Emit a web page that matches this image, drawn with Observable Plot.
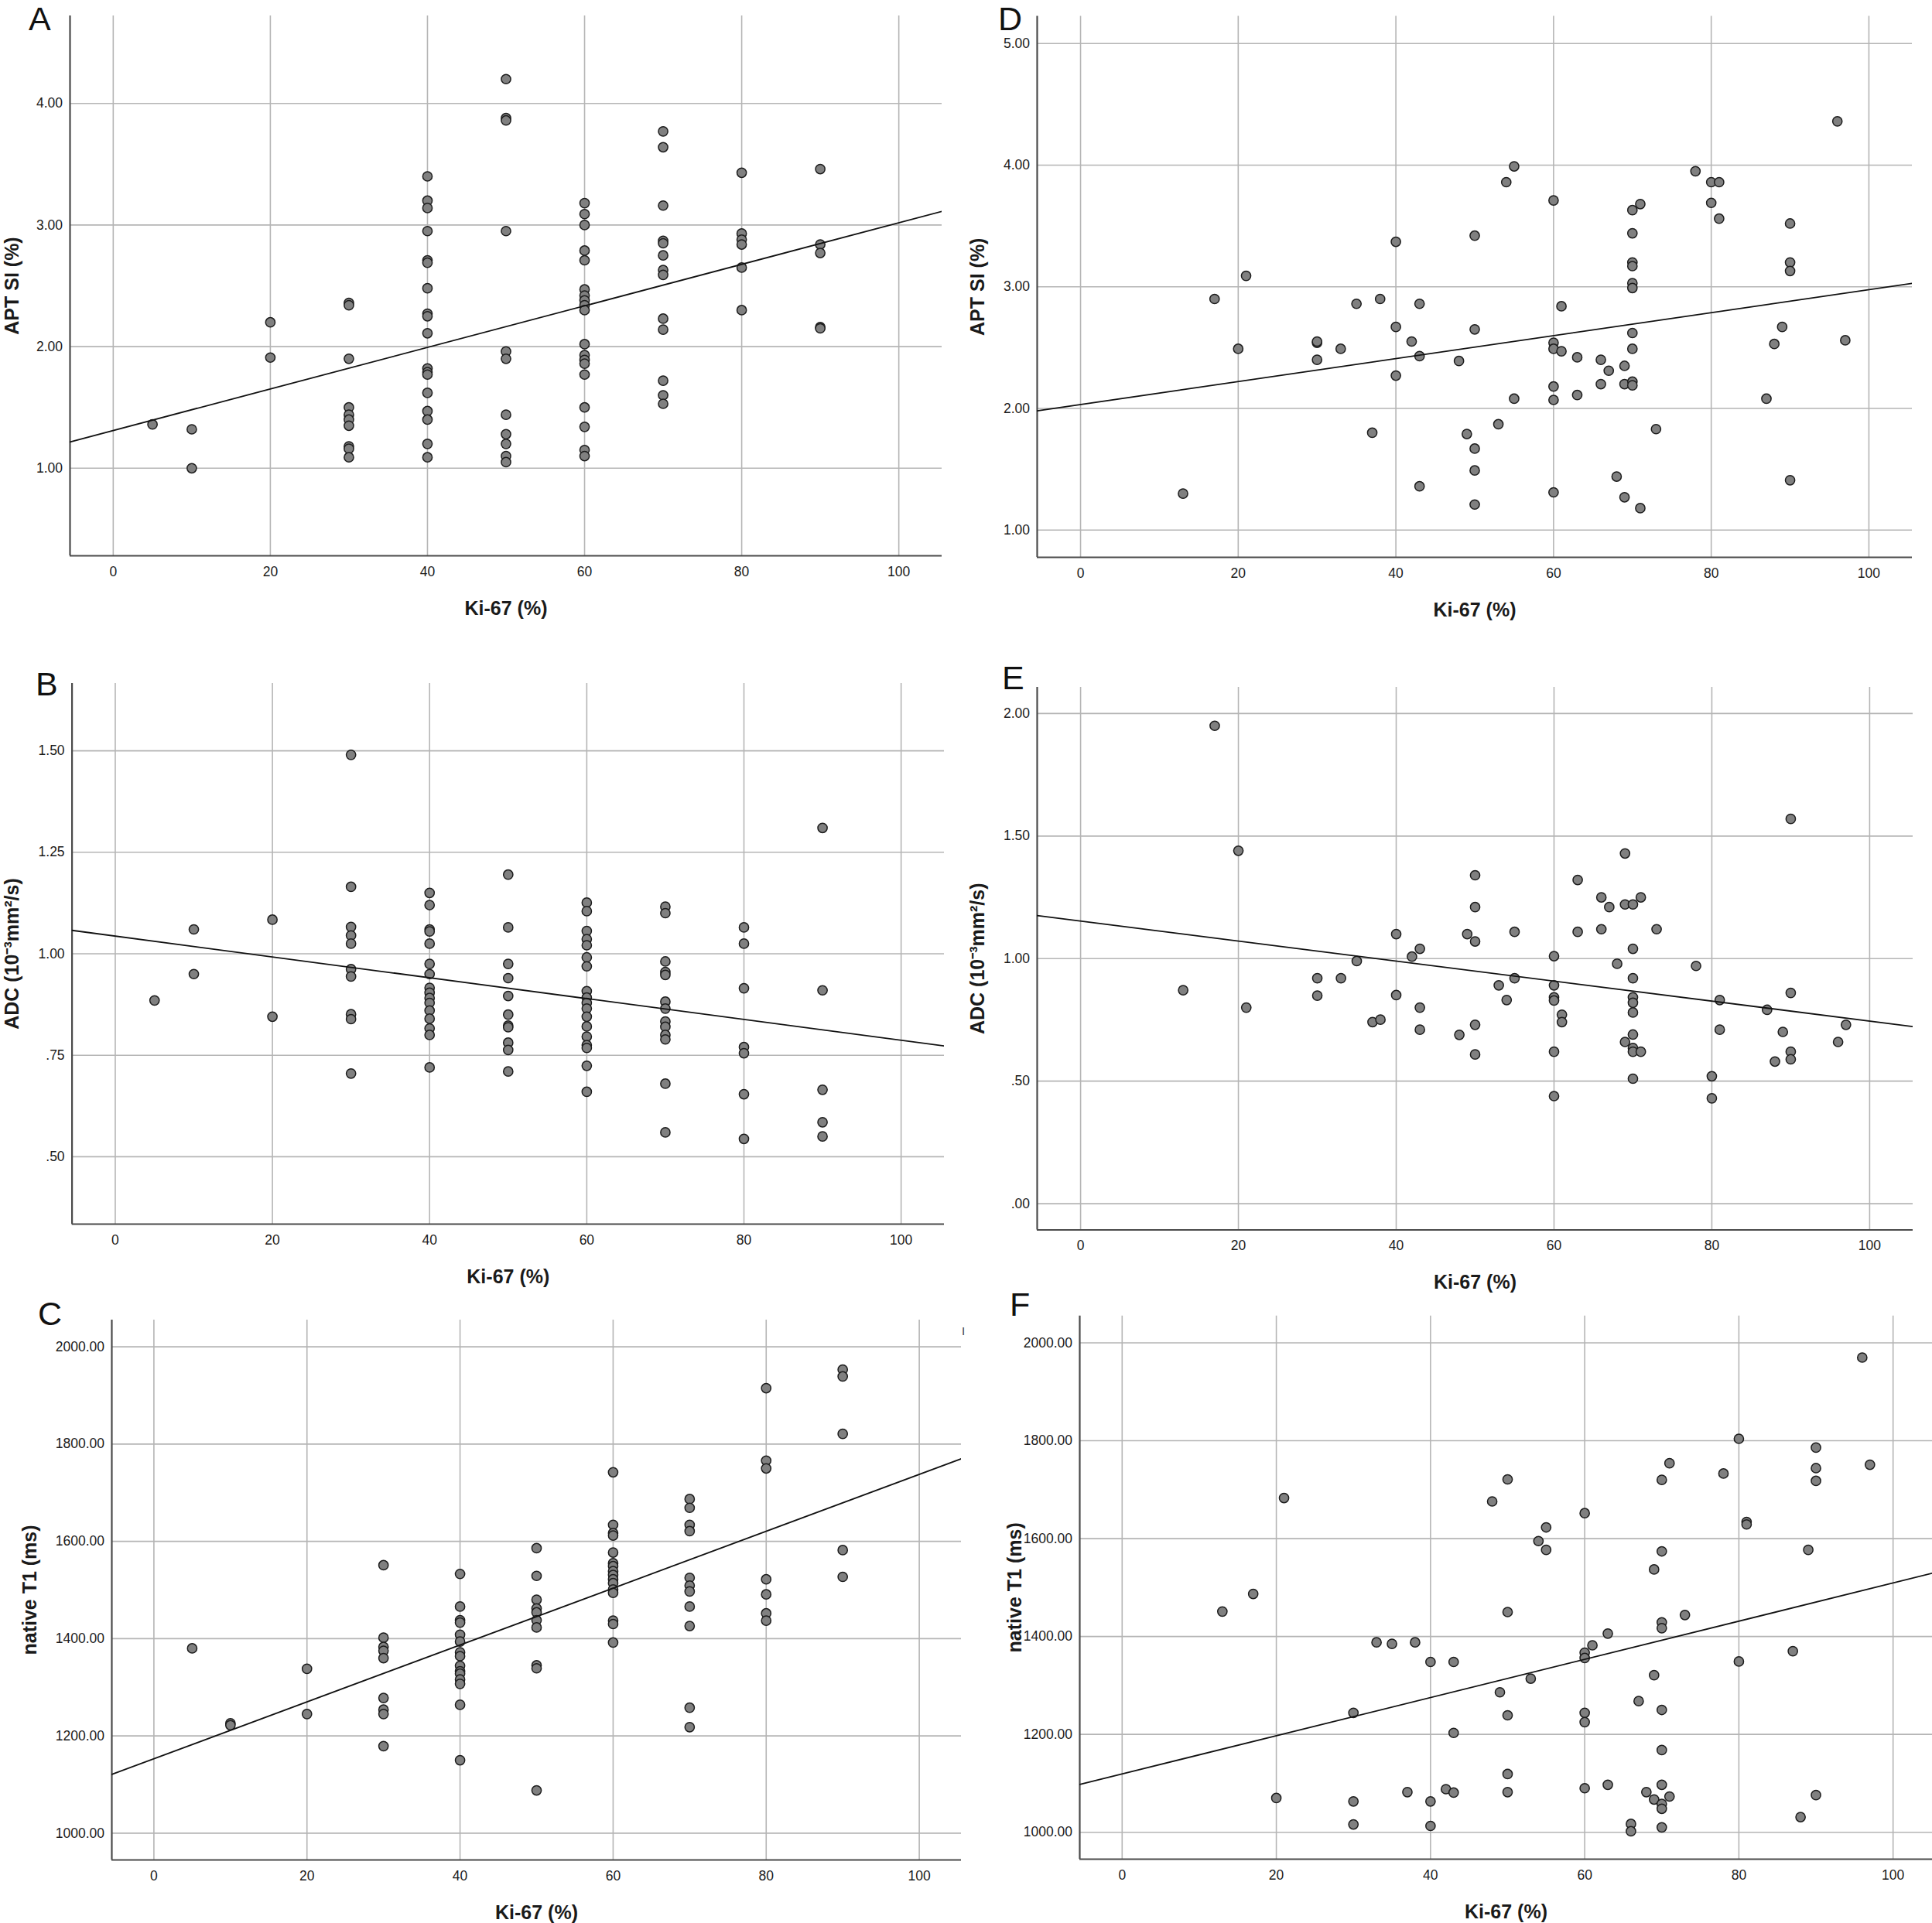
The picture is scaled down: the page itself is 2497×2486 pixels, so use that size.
<!DOCTYPE html>
<html>
<head>
<meta charset="utf-8">
<script src="https://cdn.jsdelivr.net/npm/d3@7"></script>
<script src="https://cdn.jsdelivr.net/npm/@observablehq/plot@0.6"></script>
<style>
html, body { margin: 0; padding: 0; background: #fff; overflow: hidden; }
#root { position: relative; width: 2497px; height: 2486px; background: #fff; overflow: hidden; }
.panel { position: absolute; }
.letter { position: absolute; font-family: "Liberation Sans", Arial, sans-serif; font-size: 43px; line-height: 1.15; color: #111; }
.mark { position: absolute; font-family: "Liberation Sans", Arial, sans-serif; font-size: 15px; line-height: 1.15; color: #444; }
</style>
</head>
<body>
<div id="root"></div>
<script>
// ---------- DATA ----------
const xTicks = [0, 20, 40, 60, 80, 100];

// A: APT SI vs Ki-67 (cohort 1)
const aKi = [5, 10, 10, 20, 20,
  30, 30, 30, 30, 30, 30, 30, 30, 30, 30,
  40, 40, 40, 40, 40, 40, 40, 40, 40, 40, 40, 40, 40, 40, 40, 40, 40, 40,
  50, 50, 50, 50, 50, 50, 50, 50, 50, 50, 50,
  60, 60, 60, 60, 60, 60, 60, 60, 60, 60, 60, 60, 60, 60, 60, 60, 60, 60, 60,
  70, 70, 70, 70, 70, 70, 70, 70, 70, 70, 70, 70, 70,
  80, 80, 80, 80, 80, 80,
  90, 90, 90, 90, 90];
const aApt = [1.36, 1.32, 1.00, 2.20, 1.91,
  2.36, 2.34, 1.90, 1.50, 1.44, 1.40, 1.35, 1.18, 1.16, 1.09,
  3.40, 3.20, 3.14, 2.95, 2.71, 2.69, 2.48, 2.27, 2.25, 2.11, 1.82, 1.79, 1.77, 1.62, 1.47, 1.40, 1.20, 1.09,
  4.20, 3.88, 3.86, 2.95, 1.96, 1.90, 1.44, 1.28, 1.20, 1.10, 1.05,
  3.18, 3.09, 3.00, 2.79, 2.71, 2.47, 2.42, 2.38, 2.34, 2.30, 2.02, 1.93, 1.89, 1.86, 1.77, 1.50, 1.34, 1.15, 1.10,
  3.77, 3.64, 3.16, 2.87, 2.85, 2.75, 2.63, 2.59, 2.23, 2.14, 1.72, 1.60, 1.53,
  3.43, 2.93, 2.88, 2.84, 2.65, 2.30,
  3.46, 2.84, 2.77, 2.16, 2.15];
const aTicks = [1, 2, 3, 4];

// B: ADC vs Ki-67 (cohort 1)
const bKi = [5, 10, 10, 20, 20,
  30, 30, 30, 30, 30, 30, 30, 30, 30, 30,
  40, 40, 40, 40, 40, 40, 40, 40, 40, 40, 40, 40, 40, 40, 40, 40,
  50, 50, 50, 50, 50, 50, 50, 50, 50, 50, 50,
  60, 60, 60, 60, 60, 60, 60, 60, 60, 60, 60, 60, 60, 60, 60, 60, 60, 60,
  70, 70, 70, 70, 70, 70, 70, 70, 70, 70, 70, 70, 70,
  80, 80, 80, 80, 80, 80, 80,
  90, 90, 90, 90, 90];
const bAdc = [0.885, 1.060, 0.950, 1.084, 0.845,
  1.490, 1.165, 1.066, 1.045, 1.025, 0.962, 0.944, 0.851, 0.839, 0.705,
  1.150, 1.120, 1.060, 1.055, 1.025, 0.975, 0.950, 0.916, 0.904, 0.891, 0.879, 0.860, 0.840, 0.816, 0.800, 0.720,
  1.195, 1.065, 0.975, 0.940, 0.896, 0.850, 0.823, 0.819, 0.781, 0.763, 0.710,
  1.126, 1.105, 1.056, 1.036, 1.021, 0.991, 0.969, 0.908, 0.892, 0.879, 0.865, 0.845, 0.821, 0.796, 0.775, 0.768, 0.724, 0.660,
  1.116, 1.100, 0.981, 0.955, 0.948, 0.882, 0.865, 0.833, 0.820, 0.800, 0.789, 0.680, 0.560,
  1.065, 1.025, 0.915, 0.770, 0.755, 0.654, 0.544,
  1.310, 0.910, 0.665, 0.585, 0.550];
const bTicks = [0.5, 0.75, 1.0, 1.25, 1.5];

// C: native T1 vs Ki-67 (cohort 1)
const cKi = [5, 10, 10, 20, 20,
  30, 30, 30, 30, 30, 30, 30, 30, 30,
  40, 40, 40, 40, 40, 40, 40, 40, 40, 40, 40, 40, 40, 40, 40,
  50, 50, 50, 50, 50, 50, 50, 50, 50, 50,
  60, 60, 60, 60, 60, 60, 60, 60, 60, 60, 60, 60, 60, 60, 60, 60,
  70, 70, 70, 70, 70, 70, 70, 70, 70, 70, 70,
  80, 80, 80, 80, 80, 80, 80,
  90, 90, 90, 90, 90];
const cT1 = [1380, 1226, 1222, 1338, 1245,
  1551, 1402, 1383, 1375, 1360, 1278, 1254, 1245, 1179,
  1533, 1466, 1438, 1433, 1408, 1394, 1372, 1364, 1344, 1333, 1328, 1316, 1307, 1264, 1150,
  1586, 1529, 1480, 1462, 1454, 1438, 1423, 1345, 1339, 1088,
  1742, 1634, 1617, 1612, 1577, 1555, 1549, 1539, 1531, 1522, 1514, 1501, 1494, 1437, 1430, 1392,
  1687, 1669, 1634, 1621, 1525, 1509, 1497, 1466, 1426, 1258, 1218,
  1915, 1766, 1750, 1522, 1491, 1452, 1437,
  1953, 1939, 1821, 1582, 1527];
const t1Ticks = [1000, 1200, 1400, 1600, 1800, 2000];

// D: APT SI vs Ki-67 (cohort 2)
const dKi = [13, 17, 20, 21, 30, 30, 30, 33, 35, 37, 38, 40, 40, 40, 42, 43, 43, 43, 48, 49,
  50, 50, 50, 50, 50, 53, 54, 55, 55, 60, 60, 60, 60, 60, 60, 61, 61, 63, 63, 66, 66, 67, 68,
  69, 69, 69, 70, 70, 70, 70, 70, 70, 70, 70, 70, 70, 71, 71, 73, 78, 80, 80, 81, 81, 87, 88, 89,
  90, 90, 90, 90, 96, 97];
const dApt = [1.30, 2.90, 2.49, 3.09, 2.54, 2.55, 2.40, 2.49, 2.86, 1.80, 2.90, 3.37, 2.67, 2.27, 2.55, 2.86, 2.43, 1.36, 2.39, 1.79,
  3.42, 2.65, 1.67, 1.49, 1.21, 1.87, 3.86, 3.99, 2.08, 3.71, 2.54, 2.49, 2.18, 2.07, 1.31, 2.84, 2.47, 2.42, 2.11, 2.40, 2.20, 2.31, 1.44,
  2.35, 2.20, 1.27, 3.63, 3.44, 3.20, 3.17, 3.03, 2.99, 2.62, 2.49, 2.22, 2.19, 3.68, 1.18, 1.83, 3.95, 3.86, 3.69, 3.86, 3.56, 2.08, 2.53, 2.67,
  3.52, 3.20, 3.13, 1.41, 4.36, 2.56];
const dTicks = [1, 2, 3, 4, 5];

// E: ADC vs Ki-67 (cohort 2)
const eKi = [13, 17, 20, 21, 30, 30, 33, 35, 37, 38, 40, 40, 42, 43, 43, 43, 48, 49,
  50, 50, 50, 50, 50, 53, 54, 55, 55, 60, 60, 60, 60, 60, 60, 61, 61, 63, 63, 66, 66, 67, 68,
  69, 69, 69, 70, 70, 70, 70, 70, 70, 70, 70, 70, 70, 71, 71, 73, 78, 80, 80, 81, 81, 87, 88, 89,
  90, 90, 90, 90, 96, 97];
const eAdc = [0.871, 1.950, 1.440, 0.800, 0.920, 0.849, 0.920, 0.990, 0.741, 0.751, 1.100, 0.851, 1.008, 1.040, 0.800, 0.710, 0.689, 1.100,
  1.340, 1.210, 1.070, 0.730, 0.609, 0.891, 0.831, 1.109, 0.920, 1.010, 0.891, 0.842, 0.829, 0.620, 0.439, 0.771, 0.741, 1.321, 1.109, 1.250, 1.120, 1.210, 0.979,
  1.429, 1.221, 0.660, 1.221, 1.040, 0.920, 0.842, 0.820, 0.780, 0.690, 0.635, 0.620, 0.510, 1.250, 0.620, 1.120, 0.970, 0.520, 0.430, 0.831, 0.710, 0.791, 0.580, 0.701,
  1.570, 0.860, 0.620, 0.589, 0.660, 0.730];
const eTicks = [0, 0.5, 1.0, 1.5, 2.0];

// F: native T1 vs Ki-67 (cohort 2)
const fKi = [13, 17, 21, 20, 30, 30, 30, 33, 35, 37, 38, 40, 40, 40, 42, 43, 43, 43, 48, 49,
  50, 50, 50, 50, 50, 53, 54, 55, 55, 60, 60, 60, 60, 60, 60, 61, 63, 63, 66, 66, 67, 68,
  69, 69, 69, 70, 70, 70, 70, 70, 70, 70, 70, 70, 70, 71, 71, 73, 78, 80, 80, 81, 81, 87, 88, 89,
  90, 90, 90, 90, 96, 97];
const fT1 = [1451, 1487, 1683, 1070, 1244, 1063, 1016, 1388, 1385, 1082, 1388, 1348, 1063, 1013, 1088, 1348, 1203, 1081, 1676, 1286,
  1721, 1450, 1239, 1119, 1082, 1314, 1595, 1623, 1577, 1652, 1367, 1356, 1244, 1225, 1090, 1382, 1406, 1097, 1017, 1002, 1268, 1082,
  1537, 1321, 1067, 1720, 1574, 1429, 1417, 1250, 1168, 1097, 1058, 1048, 1010, 1754, 1073, 1444, 1733, 1804, 1349, 1634, 1629, 1370, 1031, 1577,
  1786, 1744, 1718, 1076, 1970, 1751];

const xLabel = "Ki-67 (%)";
const aptLabel = "APT SI (%)";
const adcLabel = "ADC (10\u207B\u00B3mm\u00B2/s)";
const t1Label = "native T1 (ms)";

// ---------- LAYOUT ----------
const panels = [
  {letter: "A", xs: aKi, ys: aApt, yTicks: aTicks, yLabel: aptLabel,
   L: 90, R: 1217, T: 20, B: 718, sx: 0, sy: 0, sw: 1240, sh: 860,
   xDomain: [-5.5, 105.5], yDomain: [0.28, 4.72], yOff: 75, pos: [37, 0]},
  {letter: "B", xs: bKi, ys: bAdc, yTicks: bTicks, yLabel: adcLabel,
   L: 92.6, R: 1220, T: 883, B: 1582, sx: 0, sy: 843, sw: 1240, sh: 840,
   xDomain: [-5.5, 105.5], yDomain: [0.334, 1.666], yOff: 77, pos: [46, 860]},
  {letter: "C", xs: cKi, ys: cT1, yTicks: t1Ticks, yLabel: t1Label,
   L: 144, R: 1242, T: 1706, B: 2404, sx: 0, sy: 1660, sw: 1250, sh: 826,
   xDomain: [-5.5, 105.5], yDomain: [945, 2055], yOff: 106, pos: [49, 1674]},
  {letter: "D", xs: dKi, ys: dApt, yTicks: dTicks, yLabel: aptLabel,
   L: 1340, R: 2471, T: 20.5, B: 720, sx: 1240, sy: 0, sw: 1257, sh: 860,
   xDomain: [-5.5, 105.5], yDomain: [0.776, 5.224], yOff: 77, pos: [1290, 0]},
  {letter: "E", xs: eKi, ys: eAdc, yTicks: eTicks, yLabel: adcLabel,
   L: 1340, R: 2472, T: 888, B: 1589.5, sx: 1240, sy: 843, sw: 1257, sh: 840,
   xDomain: [-5.5, 105.5], yDomain: [-0.107, 2.107], yOff: 77, pos: [1295, 852]},
  {letter: "F", xs: fKi, ys: fT1, yTicks: t1Ticks, yLabel: t1Label,
   L: 1395, R: 2497, T: 1700.7, B: 2403, sx: 1240, sy: 1660, sw: 1257, sh: 826,
   xDomain: [-5.5, 105.1], yDomain: [945, 2055], yOff: 84, pos: [1305, 1662]}
];

const FONT = '"Liberation Sans", Arial, Helvetica, sans-serif';
const gridColor = "#b5b5b5";
const axisColor = "#4a4a4a";

function yFmt(d) {
  const s = d3.format(".2f")(d);
  return s.replace(/^0\./, ".").replace(/^-0\./, "-.");
}

function fit(xs, ys) {
  const mx = d3.mean(xs), my = d3.mean(ys);
  let sxy = 0, sxx = 0;
  xs.forEach((x, i) => { sxy += (x - mx) * (ys[i] - my); sxx += (x - mx) * (x - mx); });
  const b = sxy / sxx;
  return {a: my - b * mx, b};
}

const root = document.getElementById("root");

for (const p of panels) {
  const mL = p.L - p.sx, mR = p.sx + p.sw - p.R, mT = p.T - p.sy, mB = p.sy + p.sh - p.B;
  const data = p.xs.map((x, i) => ({x, y: p.ys[i]}));
  const {a, b} = fit(p.xs, p.ys);
  const reg = p.xDomain.map(x => ({x, y: a + b * x}));

  const chart = Plot.plot({
    width: p.sw,
    height: p.sh,
    marginLeft: mL, marginRight: mR, marginTop: mT, marginBottom: mB,
    style: {fontFamily: FONT, fontSize: "17.5px", color: "#1a1a1a", background: "transparent", overflow: "visible", maxWidth: "none"},
    x: {domain: p.xDomain, ticks: xTicks},
    y: {domain: p.yDomain, ticks: p.yTicks},
    marks: [
      Plot.gridX(xTicks, {stroke: gridColor, strokeOpacity: 1, strokeWidth: 1.6}),
      Plot.gridY(p.yTicks, {stroke: gridColor, strokeOpacity: 1, strokeWidth: 1.6}),
      Plot.ruleX([p.xDomain[0]], {stroke: axisColor, strokeWidth: 2.2}),
      Plot.ruleY([p.yDomain[0]], {stroke: axisColor, strokeWidth: 2.2}),
      Plot.dot(data, {x: "x", y: "y", r: 6.1, fill: "#808080", stroke: "#1c1c1c", strokeWidth: 1.5}),
      Plot.line(reg, {x: "x", y: "y", stroke: "#111", strokeWidth: 1.8, clip: true}),
      Plot.axisX(xTicks, {tickSize: 0, tickPadding: 14, label: null, tickFormat: d => String(d), fontSize: 17.5}),
      Plot.axisY(p.yTicks, {tickSize: 0, tickPadding: 9.5, label: null, tickFormat: yFmt, fontSize: 17.5}),
      Plot.text([xLabel], {text: d => d, frameAnchor: "bottom", dy: 68, lineAnchor: "middle", textAnchor: "middle",
        fontWeight: "bold", fontSize: 25, fill: "#1a1a1a"}),
      Plot.text([p.yLabel], {text: d => d, frameAnchor: "left", dx: -p.yOff, rotate: -90, lineAnchor: "middle", textAnchor: "middle",
        fontWeight: "bold", fontSize: 25, fill: "#1a1a1a"})
    ]
  });

  const holder = document.createElement("div");
  holder.className = "panel";
  holder.style.left = p.sx + "px";
  holder.style.top = p.sy + "px";
  holder.appendChild(chart);
  root.appendChild(holder);

  const lt = document.createElement("div");
  lt.className = "letter";
  lt.textContent = p.letter;
  lt.style.left = p.pos[0] + "px";
  lt.style.top = p.pos[1] + "px";
  root.appendChild(lt);
}

// small stray glyph visible at the top right of panel C in the original
const stray = document.createElement("div");
stray.className = "mark";
stray.textContent = "I";
stray.style.left = "1243px";
stray.style.top = "1712px";
root.appendChild(stray);
</script>
</body>
</html>
